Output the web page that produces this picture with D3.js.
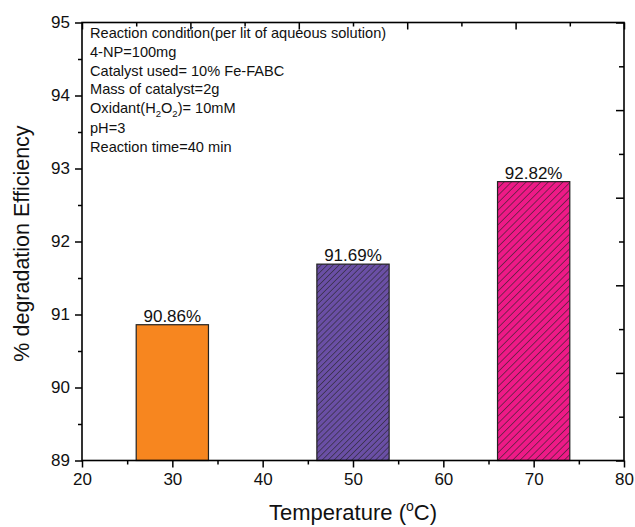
<!DOCTYPE html>
<html>
<head>
<meta charset="utf-8">
<script src="https://cdn.jsdelivr.net/npm/d3@7"></script>
<style>
  body { margin: 0; background: #fff; }
  svg text { font-family: "Liberation Sans", Arial, sans-serif; fill: #111; }
</style>
</head>
<body>
<svg id="chart" width="635" height="527"></svg>
<script>
// data
const temps   = [30, 50, 70];
const effic   = [90.86, 91.69, 92.82];
const labels  = ["90.86%", "91.69%", "92.82%"];
const colors  = ["#f7861f", "#6a4fa5", "#ee1a87"];
const hatched = [false, true, true];
const xTicks  = [20, 30, 40, 50, 60, 70, 80];
const yTicks  = [89, 90, 91, 92, 93, 94, 95];
const notes   = [
  "Reaction condition(per lit of aqueous solution)",
  "4-NP=100mg",
  "Catalyst used= 10% Fe-FABC",
  "Mass of catalyst=2g",
  "Oxidant(H2O2)= 10mM",
  "pH=3",
  "Reaction time=40 min"
];

const svg = d3.select("#chart");
const m = {top: 22.5, right: 11, bottom: 66.5, left: 82};
const W = 635 - m.left - m.right, H = 527 - m.top - m.bottom;
const g = svg.append("g").attr("transform", `translate(${m.left},${m.top})`);

const x = d3.scaleLinear().domain([20, 80]).range([0, W]);
const y = d3.scaleLinear().domain([89, 95]).range([H, 0]);
// top/right axes in the original run on their own 5-interval scale
const xt = d3.scaleLinear().domain([0, 5]).range([0, W]);
const yr = d3.scaleLinear().domain([0, 5]).range([H, 0]);

// hatch patterns
const defs = svg.append("defs");
[["hatchP", 4.2], ["hatchK", 5.2]].forEach(([id, s]) => {
  const p = defs.append("pattern").attr("id", id).attr("patternUnits", "userSpaceOnUse")
    .attr("width", s).attr("height", s).attr("patternTransform", "rotate(45)");
  p.append("line").attr("x1", 0).attr("y1", 0).attr("x2", 0).attr("y2", s)
    .attr("stroke", "#222").attr("stroke-width", 1.1);
});
const hatchId = ["", "hatchP", "hatchK"];

// bars
const bw = x(34) - x(26);
const bars = g.selectAll("g.bar").data(temps).join("g").attr("class", "bar");
bars.append("rect")
  .attr("x", d => x(d) - bw / 2).attr("width", bw)
  .attr("y", (d, i) => y(effic[i])).attr("height", (d, i) => H - y(effic[i]))
  .attr("fill", (d, i) => colors[i]);
bars.filter((d, i) => hatched[i]).append("rect")
  .attr("x", d => x(d) - bw / 2).attr("width", bw)
  .attr("y", d => y(effic[temps.indexOf(d)])).attr("height", d => H - y(effic[temps.indexOf(d)]))
  .attr("fill", d => `url(#${hatchId[temps.indexOf(d)]})`);
bars.append("rect")
  .attr("x", d => x(d) - bw / 2).attr("width", bw)
  .attr("y", (d, i) => y(effic[i])).attr("height", (d, i) => H - y(effic[i]))
  .attr("fill", "none").attr("stroke", "#222").attr("stroke-width", 1.2);
bars.append("text")
  .attr("x", d => x(d)).attr("y", (d, i) => y(effic[i]) - 3)
  .attr("text-anchor", "middle").attr("font-size", 17)
  .text((d, i) => labels[i]);

// axes
const tickStyle = sel => {
  sel.select(".domain").remove();
  sel.selectAll("line").attr("stroke", "#000").attr("stroke-width", 1.5);
};
const minorX = d3.range(25, 80, 10), minorY = d3.range(89.5, 95, 1);

g.append("g").attr("transform", `translate(0,${H})`)
  .call(d3.axisBottom(x).tickValues(minorX).tickSize(4).tickFormat("")).call(tickStyle);
g.append("g").attr("transform", `translate(0,${H})`)
  .call(d3.axisBottom(x).tickValues(xTicks).tickSize(7).tickPadding(5)).call(tickStyle)
  .selectAll("text").attr("font-size", 17).attr("font-family", "Liberation Sans, Arial, sans-serif").attr("fill", "#111");

g.append("g")
  .call(d3.axisLeft(y).tickValues(minorY).tickSize(4).tickFormat("")).call(tickStyle);
g.append("g")
  .call(d3.axisLeft(y).tickValues(yTicks).tickSize(7).tickPadding(5).tickFormat(d3.format("d"))).call(tickStyle)
  .selectAll("text").attr("font-size", 17).attr("font-family", "Liberation Sans, Arial, sans-serif").attr("fill", "#111");

// top and right: inward ticks, no labels
g.append("g")
  .call(d3.axisBottom(xt).tickValues(d3.range(0, 5.01, 1)).tickSize(7).tickFormat("")).call(tickStyle);
g.append("g")
  .call(d3.axisBottom(xt).tickValues(d3.range(0.5, 5, 1)).tickSize(4).tickFormat("")).call(tickStyle);
g.append("g").attr("transform", `translate(${W},0)`)
  .call(d3.axisLeft(yr).tickValues(d3.range(0, 5.01, 1)).tickSize(8).tickFormat("")).call(tickStyle);
g.append("g").attr("transform", `translate(${W},0)`)
  .call(d3.axisLeft(yr).tickValues(d3.range(0.5, 5, 1)).tickSize(5).tickFormat("")).call(tickStyle);

// frame
g.append("rect").attr("width", W).attr("height", H)
  .attr("fill", "none").attr("stroke", "#000").attr("stroke-width", 1.6);

// axis titles
const xt1 = svg.append("text").attr("x", m.left + W / 2).attr("y", 520)
  .attr("text-anchor", "middle").attr("font-size", 22);
xt1.append("tspan").text("Temperature (");
xt1.append("tspan").attr("font-size", 14).attr("dy", -9).text("o");
xt1.append("tspan").attr("dy", 9).text("C)");

svg.append("text").attr("transform", `translate(29,${m.top + H / 2 + 2}) rotate(-90)`)
  .attr("text-anchor", "middle").attr("font-size", 21.5)
  .text("% degradation Efficiency");

// condition notes
const nt = svg.append("g").attr("transform", "translate(90,0)");
const base = [38, 57, 76, 94, 113, 133, 152];
notes.forEach((s, i) => {
  const t = nt.append("text").attr("y", base[i]).attr("font-size", 14.6);
  if (s.includes("H2O2")) {
    t.append("tspan").text("Oxidant(H");
    t.append("tspan").attr("font-size", 9.5).attr("dy", 4).text("2");
    t.append("tspan").attr("dy", -4).text("O");
    t.append("tspan").attr("font-size", 9.5).attr("dy", 4).text("2");
    t.append("tspan").attr("dy", -4).text(")= 10mM");
  } else {
    t.text(s);
  }
});
</script>
</body>
</html>
